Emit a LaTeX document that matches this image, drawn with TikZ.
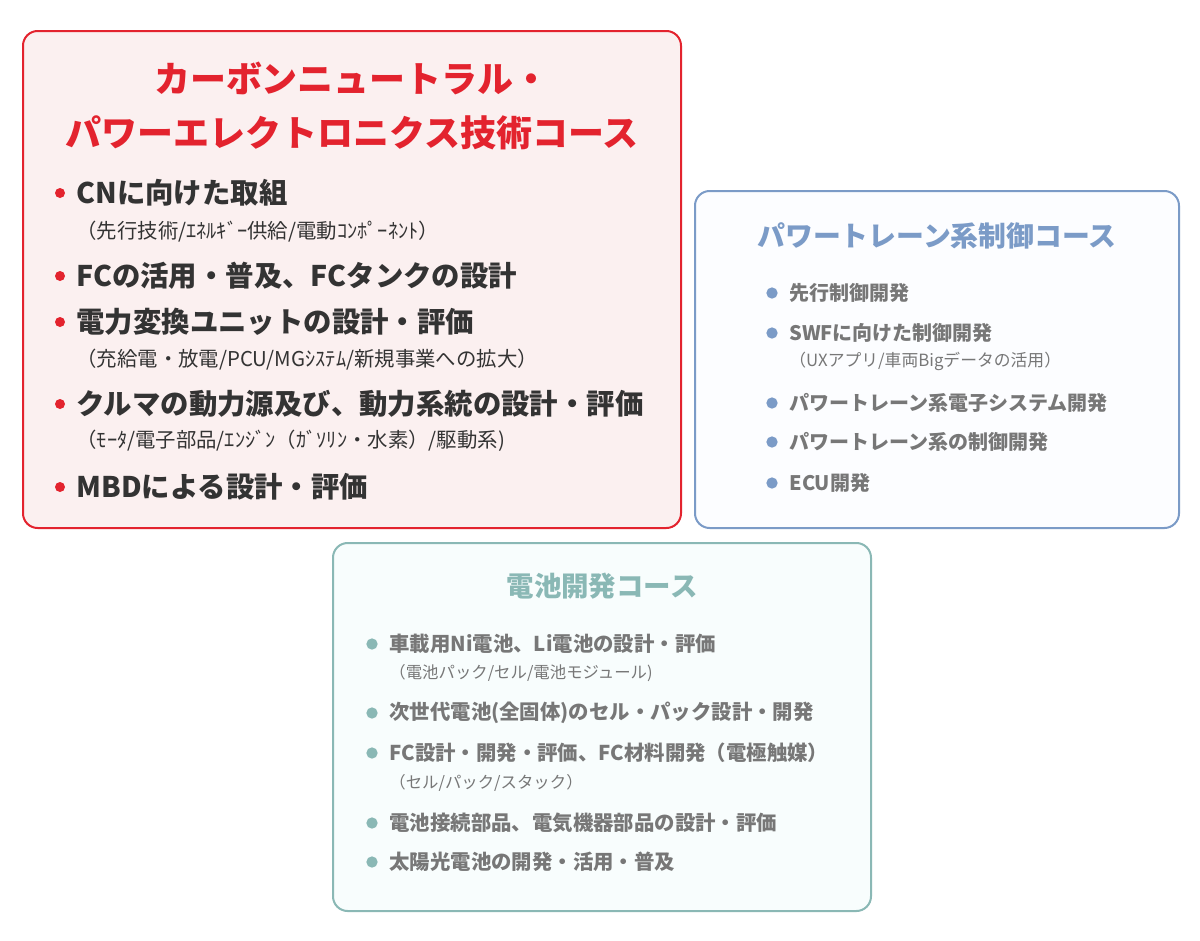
\documentclass[tikz,border=0pt]{standalone}
\usepackage{fontspec}
\setmainfont{Noto Sans CJK JP}
\usepackage{tikz}
\usetikzlibrary{positioning}
\definecolor{cnred}{HTML}{E3232E}
\definecolor{cnfill}{HTML}{FBF0F0}
\definecolor{ptblue}{HTML}{7B9BC7}
\definecolor{ptfill}{HTML}{FCFDFF}
\definecolor{batteal}{HTML}{8AB8B5}
\definecolor{batfill}{HTML}{F8FDFD}
\definecolor{darktext}{HTML}{333333}
\definecolor{graytext}{HTML}{777777}

\begin{document}
\begin{tikzpicture}[x=0.75pt,y=-0.75pt,semithick]
\tikzstyle{coursebox}=[draw,line width=1.5pt,rounded corners=11pt,inner sep=0pt]
\tikzstyle{dot}=[circle,inner sep=0pt]
\tikzstyle{item}=[anchor=west,inner sep=0pt,font=\bfseries]
\tikzstyle{sub}=[anchor=west,inner sep=0pt]
\useasboundingbox (0,0) rectangle (1200,940);
\fill[white] (0,0) rectangle (1200,940);
% carbon neutral course
\node[coursebox,draw=cnred,fill=cnfill,minimum width=493.5pt,minimum height=372.75pt] (cn) at (352,279.5) {};
\node[align=center,text=cnred,font=\fontsize{27}{40}\selectfont\bfseries] (cntitle) at (352,106) {カーボンニュートラル・\\パワーエレクトロニクス技術コース};
\foreach \y/\name/\txt in {193/cna/CNに向けた取組, 276/cnb/FCの活用・普及、FCタンクの設計, 322/cnc/電力変換ユニットの設計・評価, 404/cnd/クルマの動力源及び、動力系統の設計・評価, 487/cne/MBDによる設計・評価}
{
  \node[dot,fill=cnred,minimum size=7.5pt] (\name dot) at (60,\y) {};
  \node[item,text=darktext,font=\fontsize{21.3}{21.3}\selectfont\bfseries] (\name) at (76,\y) {\txt};
}
\node[sub,text=darktext,font=\fontsize{15.3}{15.3}\selectfont] (cnasub) at (76,232) {（先行技術/ｴﾈﾙｷﾞｰ供給/電動ｺﾝﾎﾟｰﾈﾝﾄ）};
\node[sub,text=darktext,font=\fontsize{15.3}{15.3}\selectfont] (cncsub) at (76,360) {（充給電・放電/PCU/MGｼｽﾃﾑ/新規事業への拡大）};
\node[sub,text=darktext,font=\fontsize{15.3}{15.3}\selectfont] (cndsub) at (76,441) {（ﾓｰﾀ/電子部品/ｴﾝｼﾞﾝ（ｶﾞｿﾘﾝ・水素）/駆動系)};
% powertrain control course
\node[coursebox,draw=ptblue,fill=ptfill,minimum width=363pt,minimum height=252.75pt] (pt) at (937,359.5) {};
\node[text=ptblue,font=\fontsize{20.9}{20.9}\selectfont\bfseries] (pttitle) at (937,236) {パワートレーン系制御コース};
\foreach \y/\name/\txt in {293/pta/先行制御開発, 333/ptb/SWFに向けた制御開発, 403/ptc/パワートレーン系電子システム開発, 442/ptd/パワートレーン系の制御開発, 483/pte/ECU開発}
{
  \node[dot,fill=ptblue,minimum size=8.5pt] (\name dot) at (772,\y) {};
  \node[item,text=graytext,font=\fontsize{15}{15}\selectfont\bfseries] (\name) at (789,\y) {\txt};
}
\node[sub,text=graytext,font=\fontsize{12.6}{12.6}\selectfont] (ptbsub) at (789,361) {（UXアプリ/車両Bigデータの活用）};
% battery course
\node[coursebox,draw=batteal,fill=batfill,minimum width=403.5pt,minimum height=276pt] (bat) at (602,727) {};
\node[text=batteal,font=\fontsize{20.6}{20.6}\selectfont\bfseries] (battitle) at (602,586) {電池開発コース};
\foreach \y/\name/\txt in {644/bata/車載用Ni電池、Li電池の設計・評価, 713/batb/次世代電池(全固体)のセル・パック設計・開発, 753/batc/FC設計・開発・評価、FC材料開発（電極触媒）, 823/batd/電池接続部品、電気機器部品の設計・評価, 862/bate/太陽光電池の開発・活用・普及}
{
  \node[dot,fill=batteal,minimum size=8.5pt] (\name dot) at (372,\y) {};
  \node[item,text=graytext,font=\fontsize{15.3}{15.3}\selectfont\bfseries] (\name) at (389,\y) {\txt};
}
\node[sub,text=graytext,font=\fontsize{12.3}{12.3}\selectfont] (batasub) at (389,673) {（電池パック/セル/電池モジュール)};
\node[sub,text=graytext,font=\fontsize{12.3}{12.3}\selectfont] (batcsub) at (389,783) {（セル/パック/スタック）};
\end{tikzpicture}
\end{document}
